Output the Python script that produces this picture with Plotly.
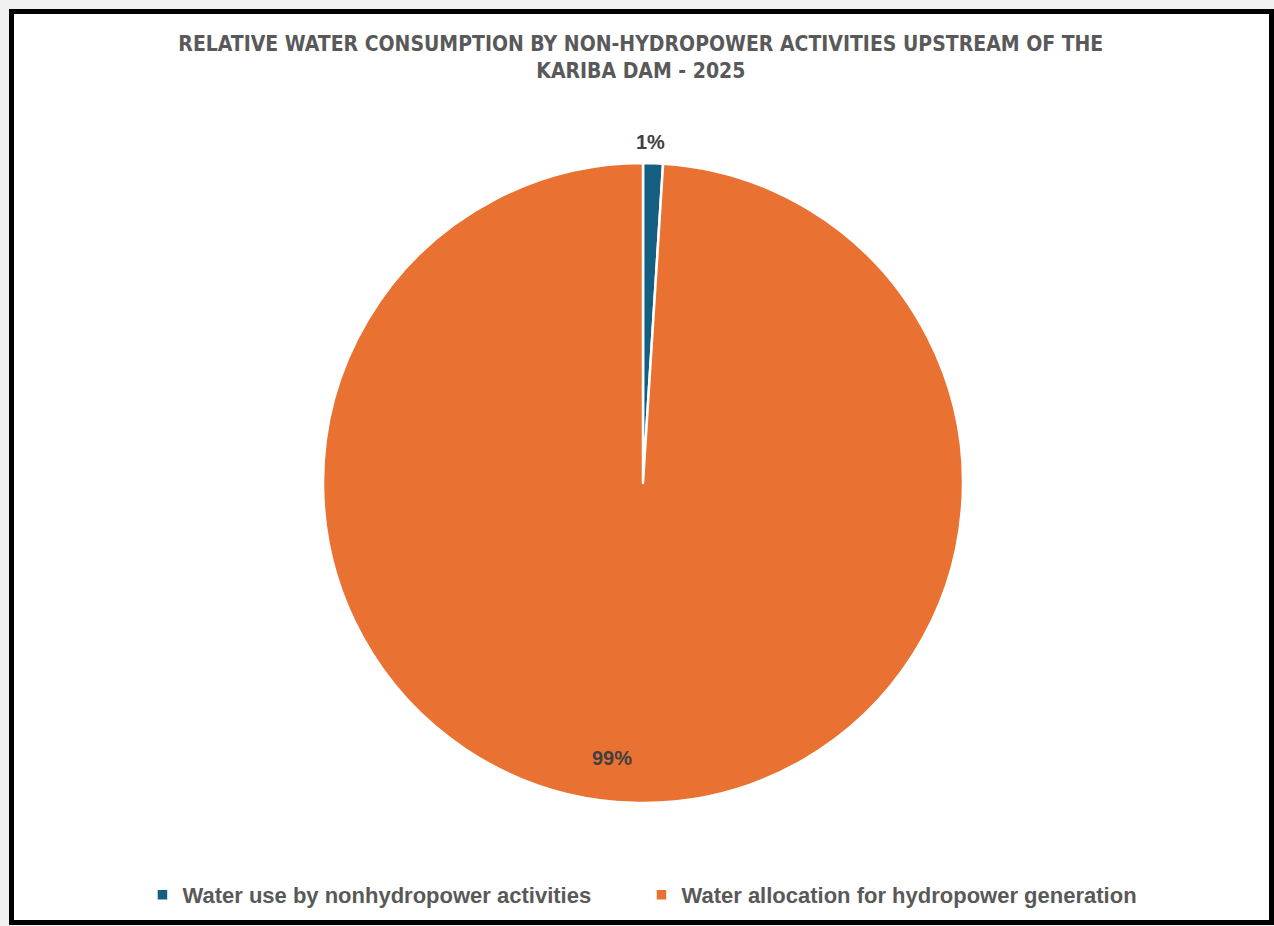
import plotly.graph_objects as go

# Share of the water upstream of Kariba Dam, 2025 (percent)
categories = ["Water use by nonhydropower activities",
              "Water allocation for hydropower generation"]
shares = [1, 99]
colors = ["#156082", "#E97132"]

W, H = 1274, 926

fig = go.Figure(
    go.Pie(
        labels=categories,
        values=shares,
        sort=False,
        direction="clockwise",
        rotation=0,
        marker=dict(colors=colors, line=dict(color="white", width=2.5)),
        textinfo="none",
        hoverinfo="label+percent",
        domain=dict(x=[323 / W, 963 / W], y=[1 - 803 / H, 1 - 163 / H]),
    )
)

# Percentage labels (best-fit placement)
total = sum(shares)
label_pos = [(650, 142), (612, 758)]
for v, (px, py) in zip(shares, label_pos):
    fig.add_annotation(
        x=px / W, y=1 - py / H, xref="paper", yref="paper",
        text=f"{v / total:.0%}", showarrow=False,
        xanchor="center", yanchor="middle",
        font=dict(family="Liberation Sans", size=20, color="#404040", weight="bold"),
    )

# Chart frame
fig.add_shape(
    type="rect", xref="paper", yref="paper", layer="below",
    x0=11.5 / W, x1=1271.5 / W, y0=1 - 922.5 / H, y1=1 - 11.5 / H,
    line=dict(color="#000000", width=5), fillcolor="white",
)

fig.update_layout(
    width=W, height=H,
    margin=dict(l=0, r=0, t=0, b=0),
    paper_bgcolor="#f0f0f0",
    plot_bgcolor="white",
    title=dict(
        text="RELATIVE WATER CONSUMPTION BY NON-HYDROPOWER ACTIVITIES UPSTREAM OF THE<br>KARIBA DAM - 2025",
        x=0.503, xanchor="center", y=1 - 51 / H, yanchor="middle",
        font=dict(family="DejaVu Sans Condensed", size=21, color="#595959", weight="bold"),
    ),
    legend=dict(
        orientation="h", x=0.5035, xanchor="center", y=1 - 895 / H, yanchor="middle",
        font=dict(family="Liberation Sans", size=22, color="#595959", weight="bold"),
        itemwidth=30, entrywidth=454, entrywidthmode="pixels",
        bgcolor="rgba(0,0,0,0)",
    ),
)

fig.write_html("out.html")
